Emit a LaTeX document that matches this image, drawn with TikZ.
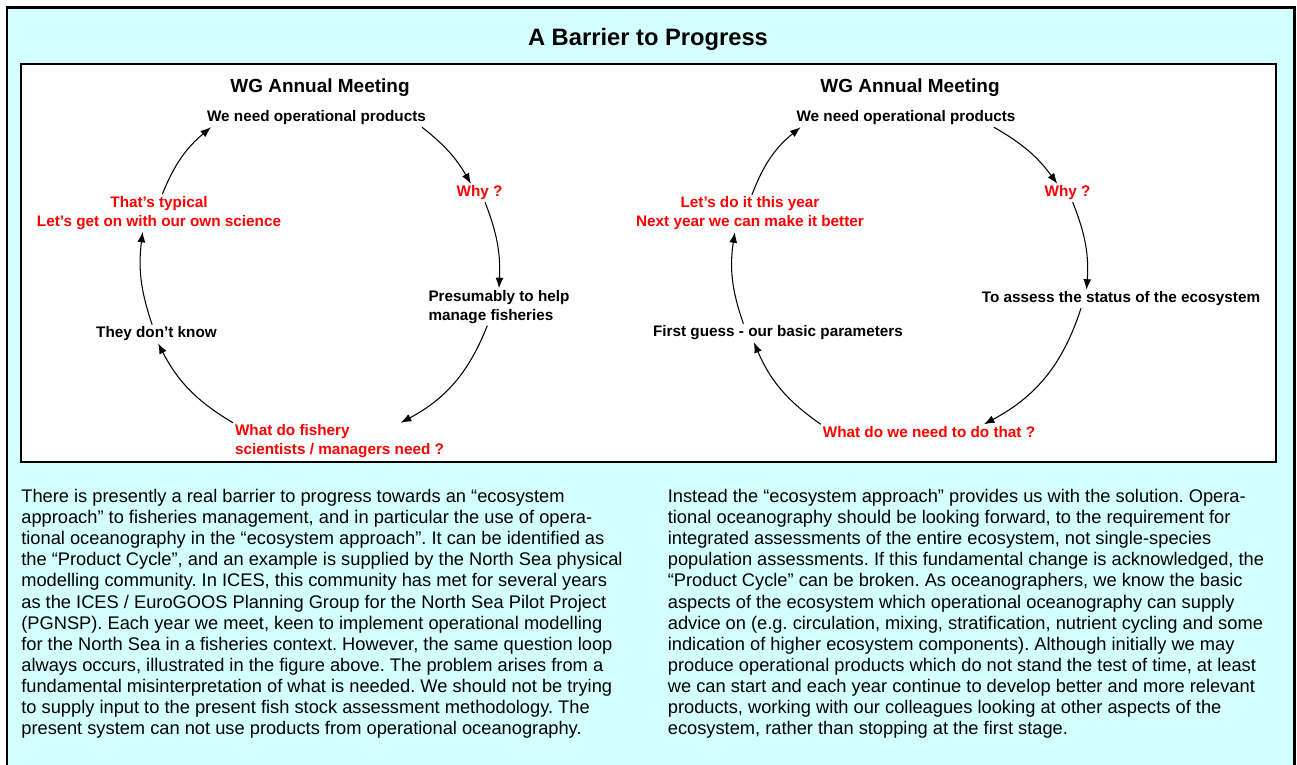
\documentclass[tikz,border=0pt]{standalone}
\usepackage{fontspec}
\setmainfont{Liberation Sans}
\usetikzlibrary{arrows.meta}
\definecolor{paleblue}{RGB}{212,255,255}
\frenchspacing

\begin{document}
\begin{tikzpicture}[x=0.02cm, y=0.02cm, >={Latex[length=6pt,width=4.5pt]},
    stage/.style={font=\fontsize{8.7}{10.8}\selectfont\bfseries, inner sep=1pt, align=center},
    query/.style={stage, text=red},
    cyc/.style={->, line width=.6pt},
    body/.style={font=\fontsize{10.4}{12}\selectfont, align=left, inner sep=0pt, anchor=north west}]
\useasboundingbox (0,0) rectangle (1297,764);
% frame and title
\fill[paleblue](7,-10) rectangle (1294,756);
\draw[line width=1.7pt](7,-10)--(7,756)--(1294,756)--(1294,-10);
\node (title) at (648,725) {\fontsize{13.5}{16}\selectfont\bfseries A Barrier to Progress};
\draw[fill=white, line width=1.4pt](21,302) rectangle (1276,700);

% left cycle
\node (wgL) at (320,676) {\fontsize{10.8}{13}\selectfont\bfseries WG Annual Meeting};
\node[stage] (needL) at (316.5,646) {We need operational products};
\node[query] (whyL) at (479.5,571) {Why ?};
\node[stage, align=left] (presL) at (499,457) {Presumably to help\\manage fisheries};
\node[query, align=left] (fishL) at (339.5,322.5) {What do fishery\\scientists / managers need ?};
\node[stage] (knowL) at (156.5,430) {They don't know};
\node[query] (typL) at (159,551) {That's typical\\Let's get on with our own science};
\draw[cyc](needL.-5.5) to[bend left=11] (whyL.133);
\draw[cyc](whyL.-59) to[bend left=12] (presL.north);
\draw[cyc](presL.-122) to[bend left=20] (fishL.17);
\draw[cyc](fishL.north west) to[bend left=16] (knowL.-80);
\draw[cyc](knowL.115) to[bend left=13] (typL.-131);
\draw[cyc](typL.80) to[bend left=14] (needL.-175);

% right cycle
\node (wgR) at (910,676) {\fontsize{10.8}{13}\selectfont\bfseries WG Annual Meeting};
\node[stage] (needR) at (906,646) {We need operational products};
\node[query] (whyR) at (1067.5,571) {Why ?};
\node[stage] (assR) at (1121,465) {To assess the status of the ecosystem};
\node[query] (whatR) at (929,332) {What do we need to do that ?};
\node[stage] (firstR) at (778,431) {First guess - our basic parameters};
\node[query] (letR) at (750,550.5) {Let's do it this year\\Next year we can make it better};
\draw[cyc](needR.-6) to[bend left=12] (whyR.138);
\draw[cyc](whyR.-61) to[bend left=13] (assR.165);
\draw[cyc](assR.-167) to[bend left=22] (whatR.8.5);
\draw[cyc](whatR.north west) to[bend left=16] (firstR.-159);
\draw[cyc](firstR.165) to[bend left=14] (letR.-129);
\draw[cyc](letR.84) to[bend left=15] (needR.-175);

% text below
\node[body] (txtL) at (21,275) {There is presently a real barrier to progress towards an ``ecosystem\\
approach'' to fisheries management, and in particular the use of opera-\\
tional oceanography in the ``ecosystem approach''. It can be identified as\\
the ``Product Cycle'', and an example is supplied by the North Sea physical\\
modelling community. In ICES, this community has met for several years\\
as the ICES / EuroGOOS Planning Group for the North Sea Pilot Project\\
(PGNSP). Each year we meet, keen to implement operational modelling\\
for the North Sea in a fisheries context. However, the same question loop\\
always occurs, illustrated in the figure above. The problem arises from a\\
fundamental misinterpretation of what is needed. We should not be trying\\
to supply input to the present fish stock assessment methodology. The\\
present system can not use products from operational oceanography.};
\node[body] (txtR) at (667.5,275) {Instead the ``ecosystem approach'' provides us with the solution. Opera-\\
tional oceanography should be looking forward, to the requirement for\\
integrated assessments of the entire ecosystem, not single-species\\
population assessments. If this fundamental change is acknowledged, the\\
``Product Cycle'' can be broken. As oceanographers, we know the basic\\
aspects of the ecosystem which operational oceanography can supply\\
advice on (e.g. circulation, mixing, stratification, nutrient cycling and some\\
indication of higher ecosystem components). Although initially we may\\
produce operational products which do not stand the test of time, at least\\
we can start and each year continue to develop better and more relevant\\
products, working with our colleagues looking at other aspects of the\\
ecosystem, rather than stopping at the first stage.};
\end{tikzpicture}
\end{document}
